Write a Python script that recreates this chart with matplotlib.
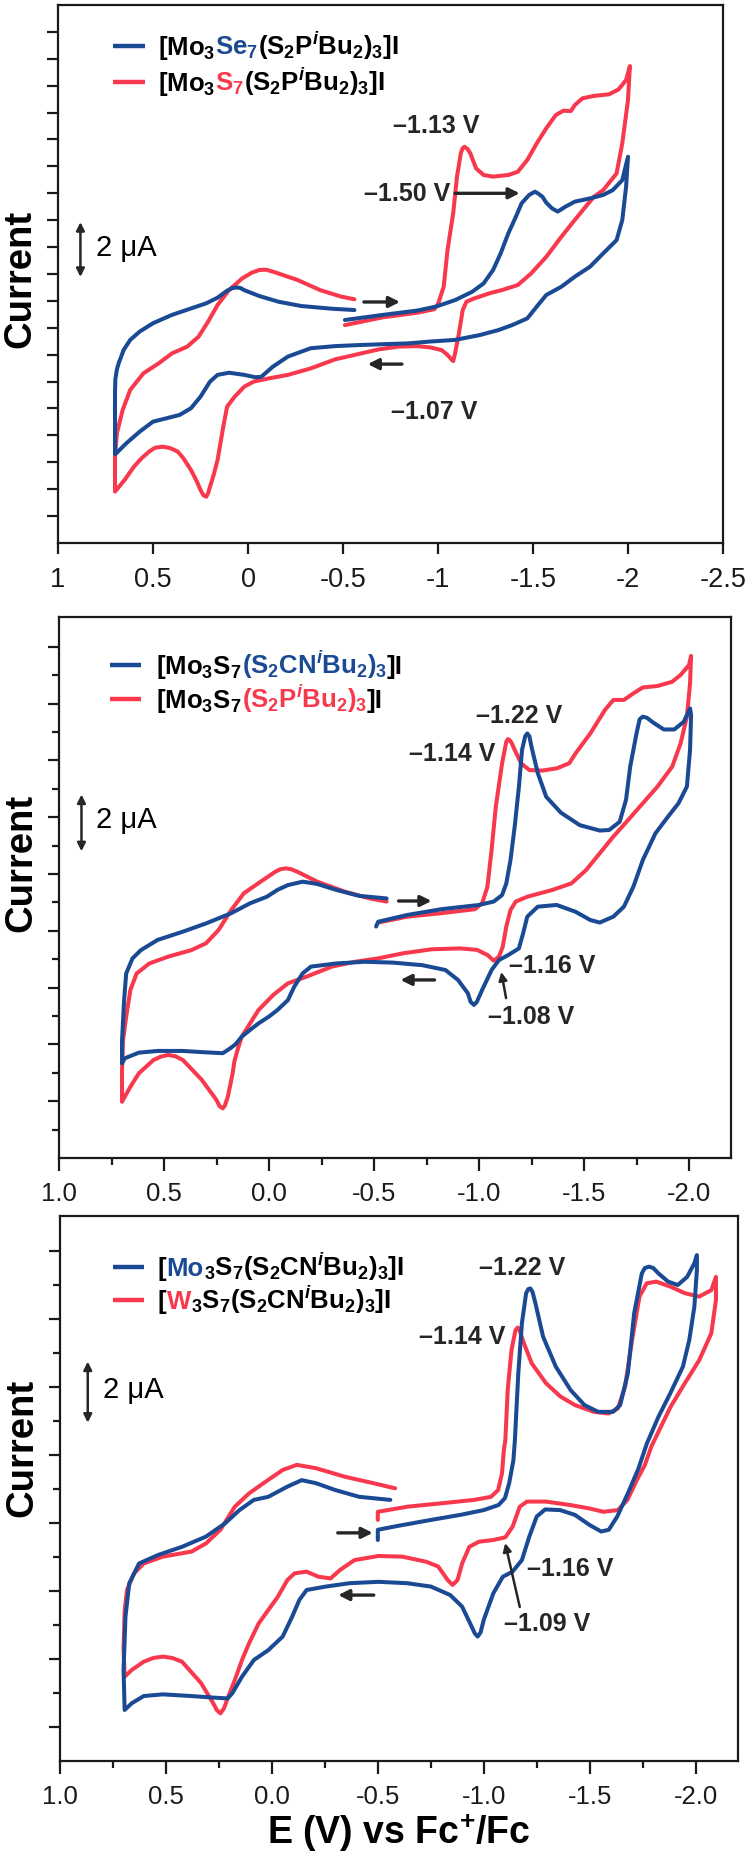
import matplotlib
matplotlib.use("Agg")
import matplotlib.pyplot as plt
from matplotlib.offsetbox import TextArea, HPacker, AnnotationBbox
import numpy as np

plt.rcParams["font.family"] = ["Liberation Sans", "DejaVu Sans"]
plt.rcParams["axes.unicode_minus"] = False
plt.rcParams["mathtext.fontset"] = "custom"
plt.rcParams["mathtext.rm"] = "Liberation Sans:bold"
plt.rcParams["mathtext.bf"] = "Liberation Sans:bold"
plt.rcParams["mathtext.it"] = "Liberation Sans:italic:bold"
plt.rcParams["mathtext.default"] = "rm"

BLUE = "#1b4a94"
RED = "#f8384d"
INK = "#262626"

# ---------------------------------------------------------------- data ----
# panel 1: [Mo3Se7(S2PiBu2)3]I (blue) vs [Mo3S7(S2PiBu2)3]I (red), current in uA
P1_BLUE_E = [-0.51, -0.71, -0.89, -0.99, -1.09, -1.18, -1.24, -1.29, -1.33, -1.37, -1.41, -1.44, -1.48,
             -1.51, -1.525, -1.55, -1.57, -1.60, -1.63, -1.67, -1.72, -1.80, -1.87, -1.92, -1.97, -2.00,
             -1.99, -1.97, -1.94, -1.87, -1.80, -1.72, -1.65, -1.57, -1.52, -1.47, -1.39, -1.32, -1.22,
             -1.09, -0.96, -0.84, -0.71, -0.59, -0.46, -0.33, -0.21, -0.13, -0.07, -0.04, 0.02, 0.10,
             0.16, 0.20, 0.25, 0.30, 0.36, 0.45, 0.50, 0.57, 0.64, 0.69, 0.70,
             0.70, 0.70, 0.698, 0.69, 0.68, 0.67, 0.655, 0.62, 0.57, 0.50, 0.40, 0.30, 0.22, 0.16, 0.11,
             0.085, 0.06, 0.04, 0.02, -0.06, -0.16, -0.28, -0.44, -0.56]
P1_BLUE_I = [8.29, 8.48, 8.64, 8.79, 9.03, 9.34, 9.65, 10.15, 10.77, 11.51, 12.13, 12.63, 12.94,
             13.06, 13.00, 12.87, 12.65, 12.44, 12.32, 12.50, 12.69, 12.81, 12.94, 13.12, 13.49, 14.36,
             13.25, 12.01, 11.26, 10.77, 10.27, 9.90, 9.53, 9.22, 8.79, 8.35, 8.10, 7.92, 7.73,
             7.55, 7.49, 7.42, 7.39, 7.36, 7.32, 7.24, 6.93, 6.55, 6.18, 6.16, 6.25, 6.33,
             6.25, 6.00, 5.44, 5.01, 4.76, 4.60, 4.51, 4.14, 3.71, 3.36, 3.30,
             4.30, 5.60, 6.10, 6.45, 6.70, 6.88, 7.17, 7.55, 7.86, 8.17, 8.48, 8.72, 8.91, 9.12, 9.38,
             9.47, 9.50, 9.48, 9.40, 9.18, 8.97, 8.81, 8.71, 8.66]
P1_RED_E = [-0.51, -0.71, -0.89, -0.98, -1.00, -1.03, -1.05, -1.08, -1.10, -1.12, -1.13, -1.14, -1.155,
            -1.17, -1.20, -1.24, -1.29, -1.37, -1.42, -1.47, -1.52, -1.57, -1.62, -1.66, -1.70, -1.72,
            -1.76, -1.82, -1.90, -1.95, -1.99, -2.01,
            -2.00, -1.97, -1.94, -1.87, -1.82, -1.72, -1.65, -1.57, -1.49, -1.42, -1.34, -1.27, -1.19,
            -1.15, -1.13, -1.11, -1.09, -1.08, -1.05, -1.02, -0.96, -0.89, -0.79, -0.69, -0.56, -0.46,
            -0.33, -0.21, -0.11, -0.03, 0.02, 0.07, 0.11, 0.13, 0.16, 0.18, 0.20, 0.21, 0.22, 0.235,
            0.25, 0.27, 0.30, 0.34, 0.37, 0.41, 0.45, 0.49, 0.52, 0.56, 0.60, 0.65, 0.70,
            0.70, 0.69, 0.66, 0.62, 0.55, 0.47, 0.40, 0.32, 0.26, 0.21, 0.16, 0.10, 0.03, -0.02,
            -0.06, -0.095, -0.13, -0.26, -0.38, -0.49, -0.56]
P1_RED_I = [8.10, 8.39, 8.56, 8.69, 8.88, 9.53, 10.89, 12.26, 13.62, 14.49, 14.68, 14.73, 14.65,
            14.49, 13.93, 13.68, 13.62, 13.68, 13.80, 14.24, 14.86, 15.42, 15.91, 16.07, 16.06, 16.28,
            16.53, 16.62, 16.68, 16.86, 17.21, 17.73,
            16.47, 14.86, 13.74, 13.12, 12.87, 12.01, 11.39, 10.64, 10.02, 9.59, 9.41, 9.28, 9.09,
            8.97, 8.66, 7.79, 7.05, 6.76, 6.99, 7.17, 7.27, 7.32, 7.30, 7.20, 6.99, 6.83,
            6.49, 6.25, 6.12, 6.00, 5.81, 5.44, 5.07, 4.33, 3.09, 2.55, 2.09, 1.85, 1.72, 1.78,
            1.97, 2.30, 2.71, 3.15, 3.40, 3.53, 3.58, 3.54, 3.40, 3.15, 2.84, 2.34, 1.91,
            3.21, 4.08, 4.94, 5.69, 6.31, 6.68, 7.05, 7.30, 7.67, 8.23, 8.85, 9.40, 9.84, 10.05,
            10.15, 10.16, 10.09, 9.78, 9.40, 9.16, 9.06]

# panel 2: [Mo3S7(S2CNiBu2)3]I (blue) vs [Mo3S7(S2PiBu2)3]I (red)
P2_BLUE_E = [-0.51, -0.52, -0.66, -0.82, -1.00, -1.07, -1.11, -1.13, -1.15, -1.17, -1.19, -1.205, -1.22,
             -1.23, -1.24, -1.25, -1.28, -1.32, -1.39, -1.48, -1.575, -1.62, -1.67, -1.70, -1.72, -1.75,
             -1.765, -1.78, -1.80, -1.83, -1.88, -1.93, -1.975, -2.005,
             -2.01, -2.005, -1.99, -1.95, -1.90, -1.84, -1.78, -1.735, -1.69, -1.64, -1.575, -1.53,
             -1.46, -1.37, -1.28, -1.23, -1.21, -1.19, -1.14, -1.095, -1.06, -1.015, -0.99, -0.976,
             -0.96, -0.947, -0.90, -0.84, -0.73, -0.59, -0.455, -0.32, -0.20, -0.16, -0.12, -0.09,
             -0.04, 0.00, 0.05, 0.09, 0.13, 0.16, 0.185, 0.22, 0.30, 0.41, 0.53, 0.62, 0.687, 0.70,
             0.70, 0.69, 0.68, 0.65, 0.61, 0.53, 0.41, 0.30, 0.18, 0.09, 0.01, -0.04, -0.09, -0.16,
             -0.23, -0.32, -0.43, -0.56]
P2_BLUE_I = [8.15, 8.32, 8.56, 8.76, 8.91, 9.03, 9.26, 9.67, 10.49, 11.67, 13.07, 14.37, 14.85,
             14.95, 14.85, 14.48, 13.55, 12.72, 12.16, 11.72, 11.53, 11.55, 11.84, 12.61, 13.78, 14.95,
             15.45, 15.54, 15.50, 15.33, 15.09, 15.09, 15.36, 15.83,
             15.60, 14.37, 13.08, 12.49, 12.02, 11.43, 10.49, 9.55, 8.85, 8.50, 8.29, 8.38,
             8.67, 8.91, 8.85, 8.50, 7.91, 7.38, 7.15, 6.97, 6.62, 5.92, 5.50, 5.39,
             5.50, 5.80, 6.27, 6.62, 6.79, 6.88, 6.91, 6.85, 6.74, 6.50, 6.03, 5.56,
             5.21, 4.98, 4.74, 4.51, 4.27, 4.00, 3.86, 3.69, 3.72, 3.77, 3.77, 3.71, 3.51, 3.33,
             4.10, 5.56, 6.50, 7.03, 7.32, 7.68, 7.97, 8.26, 8.62, 8.97, 9.20, 9.44, 9.61, 9.73,
             9.65, 9.44, 9.23, 9.14]
P2_RED_E = [-0.52, -0.66, -0.82, -0.98, -1.015, -1.04, -1.06, -1.08, -1.11, -1.13, -1.138, -1.145, -1.155,
            -1.17, -1.20, -1.24, -1.30, -1.37, -1.43, -1.46, -1.53, -1.60, -1.64, -1.69, -1.735, -1.78,
            -1.85, -1.92, -1.96, -2.00, -2.01,
            -2.005, -1.99, -1.96, -1.92, -1.85, -1.78, -1.71, -1.64, -1.575, -1.51, -1.44, -1.35,
            -1.23, -1.175, -1.15, -1.13, -1.113, -1.095, -1.07, -1.04, -0.99, -0.91, -0.775, -0.64,
            -0.52, -0.41, -0.30, -0.18, -0.09, -0.02, 0.05, 0.09, 0.13, 0.15, 0.165, 0.173, 0.196,
            0.21, 0.22, 0.235, 0.25, 0.32, 0.41, 0.445, 0.48, 0.515, 0.55, 0.62, 0.66, 0.70,
            0.70, 0.695, 0.68, 0.66, 0.63, 0.57, 0.48, 0.37, 0.30, 0.24, 0.18, 0.12, 0.04, -0.03,
            -0.055, -0.08, -0.105, -0.135, -0.23, -0.36, -0.48, -0.56]
P2_RED_I = [8.29, 8.50, 8.62, 8.76, 8.97, 9.55, 10.85, 12.37, 13.90, 14.66, 14.75, 14.72, 14.62,
            14.37, 13.90, 13.66, 13.64, 13.72, 13.90, 14.25, 14.95, 15.78, 16.13, 16.13, 16.36, 16.57,
            16.62, 16.77, 17.01, 17.36, 17.68,
            16.71, 15.54, 14.60, 13.78, 13.08, 12.49, 11.90, 11.32, 10.73, 10.14, 9.67, 9.44,
            9.20, 9.03, 8.73, 8.15, 7.44, 7.09, 6.95, 7.15, 7.33, 7.38, 7.35, 7.21,
            7.03, 6.91, 6.74, 6.39, 6.15, 5.74, 5.21, 4.74, 4.27, 3.80, 3.40, 2.98, 2.16,
            1.85, 1.75, 1.82, 2.04, 2.75, 3.45, 3.58, 3.63, 3.57, 3.45, 2.98, 2.51, 1.98,
            3.04, 4.15, 4.98, 5.92, 6.50, 6.85, 7.09, 7.32, 7.56, 8.03, 8.73, 9.32, 9.73, 10.08,
            10.17, 10.20, 10.17, 10.08, 9.73, 9.38, 9.14, 9.03]

# panel 3: [Mo3S7(S2CNiBu2)3]I (blue) vs [W3S7(S2CNiBu2)3]I (red)
P3_BLUE_E = [-0.50, -0.50, -0.59, -0.75, -0.89, -1.00, -1.07, -1.10, -1.12, -1.14, -1.147, -1.163, -1.18,
             -1.20, -1.21, -1.22, -1.23, -1.244, -1.28, -1.34, -1.41, -1.475, -1.54, -1.61, -1.644, -1.68,
             -1.71, -1.746, -1.76, -1.78, -1.80, -1.825, -1.87, -1.916, -1.96, -1.994, -2.006,
             -2.006, -1.994, -1.97, -1.94, -1.88, -1.825, -1.77, -1.73, -1.68, -1.63, -1.59, -1.554,
             -1.50, -1.43, -1.36, -1.29, -1.25, -1.215, -1.18, -1.136, -1.09, -1.045, -1.00, -0.985,
             -0.971, -0.958, -0.943, -0.898, -0.842, -0.751, -0.638, -0.503, -0.367, -0.254, -0.164,
             -0.130, -0.096, -0.051, 0.017, 0.085, 0.141, 0.187, 0.209, 0.288, 0.379, 0.515, 0.605,
             0.661, 0.695,
             0.700, 0.691, 0.673, 0.627, 0.537, 0.424, 0.311, 0.221, 0.153, 0.085, 0.017, -0.073,
             -0.141, -0.209, -0.299, -0.412, -0.559]
P3_BLUE_I = [6.50, 6.80, 6.91, 7.09, 7.24, 7.38, 7.53, 7.73, 8.17, 8.85, 9.44, 11.40, 12.87,
             13.76, 13.88, 13.90, 13.80, 13.46, 12.48, 11.60, 10.91, 10.47, 10.27, 10.27, 10.47, 11.40,
             13.17, 14.34, 14.50, 14.54, 14.50, 14.34, 14.10, 14.00, 14.24, 14.64, 14.88,
             14.44, 13.36, 12.38, 11.60, 10.81, 10.13, 9.34, 8.60, 7.87, 7.19, 6.80, 6.75,
             6.94, 7.24, 7.38, 7.40, 7.19, 6.60, 5.91, 5.57, 5.42, 4.93, 4.15, 3.78,
             3.66, 3.75, 3.95, 4.54, 4.88, 5.13, 5.23, 5.27, 5.23, 5.13, 5.03,
             4.74, 4.25, 3.66, 3.26, 2.97, 2.48, 1.99, 1.84, 1.87, 1.91, 1.96, 1.91,
             1.70, 1.50,
             2.68, 4.25, 5.23, 5.81, 6.06, 6.30, 6.60, 6.99, 7.38, 7.68, 7.77, 8.07,
             8.26, 8.17, 7.97, 7.77, 7.68]
P3_RED_E = [-0.50, -0.50, -0.64, -0.80, -0.955, -1.034, -1.068, -1.086, -1.095, -1.102, -1.113, -1.131,
            -1.15, -1.16, -1.17, -1.19, -1.226, -1.294, -1.362, -1.43, -1.52, -1.588, -1.633, -1.667,
            -1.70, -1.735, -1.769, -1.814, -1.882, -1.949, -2.017, -2.074, -2.096,
            -2.096, -2.074, -2.017, -1.949, -1.882, -1.836, -1.791, -1.76, -1.723, -1.678, -1.633,
            -1.565, -1.497, -1.407, -1.294, -1.204, -1.17, -1.136, -1.102, -1.045, -0.977, -0.932,
            -0.898, -0.876, -0.853, -0.830, -0.785, -0.729, -0.616, -0.503, -0.390, -0.322, -0.277,
            -0.220, -0.164, -0.107, -0.073, -0.028, 0.017, 0.062, 0.108, 0.141, 0.175, 0.209, 0.226,
            0.243, 0.26, 0.277, 0.334, 0.424, 0.47, 0.515, 0.56, 0.605, 0.661, 0.695,
            0.700, 0.695, 0.684, 0.650, 0.605, 0.515, 0.379, 0.311, 0.243, 0.175, 0.108, 0.040,
            -0.051, -0.118, -0.209, -0.345, -0.480, -0.582]
P3_RED_I = [7.09, 7.33, 7.48, 7.58, 7.68, 7.77, 7.97, 8.46, 9.15, 9.44, 10.91, 12.09,
            12.68, 12.75, 12.65, 12.28, 11.70, 11.11, 10.72, 10.47, 10.27, 10.22, 10.37, 11.01,
            12.38, 13.66, 14.05, 14.10, 13.95, 13.76, 13.66, 13.85, 14.24,
            13.56, 12.58, 11.79, 11.11, 10.42, 9.83, 9.25, 8.70, 8.27, 7.68, 7.38,
            7.33, 7.43, 7.53, 7.63, 7.63, 7.48, 6.89, 6.58, 6.50, 6.45, 6.30,
            5.81, 5.32, 5.18, 5.32, 5.72, 5.86, 6.01, 6.03, 5.91, 5.62, 5.37,
            5.42, 5.57, 5.52, 5.32, 4.83, 4.44, 4.05, 3.46, 2.97, 2.38, 1.84, 1.55,
            1.40, 1.50, 1.70, 2.29, 2.92, 3.03, 3.07, 3.03, 2.92, 2.68, 2.48,
            3.30, 4.40, 5.03, 5.52, 5.81, 6.01, 6.16, 6.40, 6.80, 7.48, 7.87, 8.17,
            8.56, 8.71, 8.61, 8.36, 8.17, 8.02]

# legend pieces (text, colour) per line
P1_LEG = [[("[Mo$_3$", "k"), ("Se$_7$", BLUE), ("(S$_2$P$^{\\mathit{i}}$Bu$_2$)$_3$]I", "k")],
          [("[Mo$_3$", "k"), ("S$_7$", RED), ("(S$_2$P$^{\\mathit{i}}$Bu$_2$)$_3$]I", "k")]]
P2_LEG = [[("[Mo$_3$S$_7$", "k"), ("(S$_2$CN$^{\\mathit{i}}$Bu$_2$)$_3$", BLUE), ("]I", "k")],
          [("[Mo$_3$S$_7$", "k"), ("(S$_2$P$^{\\mathit{i}}$Bu$_2$)$_3$", RED), ("]I", "k")]]
P3_LEG = [[("[", "k"), ("Mo", BLUE), ("$_3$S$_7$(S$_2$CN$^{\\mathit{i}}$Bu$_2$)$_3$]I", "k")],
          [("[", "k"), ("W", RED), ("$_3$S$_7$(S$_2$CN$^{\\mathit{i}}$Bu$_2$)$_3$]I", "k")]]

# peak labels: (text, E, I)
P1_LABELS = [("\u20131.13 V", -0.99, 15.5), ("\u20131.50 V", -0.84, 12.97), ("\u20131.07 V", -0.98, 4.87)]
P2_LABELS = [("\u20131.22 V", -1.19, 15.56), ("\u20131.14 V", -0.87, 14.23),
             ("\u20131.16 V", -1.35, 6.76), ("\u20131.08 V", -1.25, 4.96)]
P3_LABELS = [("\u20131.22 V", -1.18, 14.50), ("\u20131.14 V", -0.90, 12.47),
             ("\u20131.16 V", -1.41, 5.65), ("\u20131.09 V", -1.30, 4.03)]

W, H = 750, 1851


def add_axes(fig, left, top, right, bottom):
    return fig.add_axes([left / W, (H - bottom) / H, (right - left) / W, (bottom - top) / H])


def legend_line(ax, pieces, E, I, fs):
    box = HPacker(children=[TextArea(t, textprops=dict(color=c, fontsize=fs, fontweight="bold"))
                            for t, c in pieces], align="baseline", pad=0, sep=0)
    ax.add_artist(AnnotationBbox(box, (E, I), xycoords="data", box_alignment=(0, 0.5),
                                 frameon=False, pad=0))


def arrow(ax, start, end, lw=2.4, ms=16, style="-|>"):
    ax.annotate("", xy=end, xytext=start,
                arrowprops=dict(arrowstyle=style, color=INK, lw=lw, mutation_scale=ms,
                                shrinkA=0, shrinkB=0))


def decorate(ax, leg, leg_E, leg_I, line_E, labels, fs_leg=18.5):
    for (row, I), c in zip(zip(leg, leg_I), (BLUE, RED)):
        ax.plot(line_E, [I, I], color=c, lw=3.2, solid_capstyle="butt")
        legend_line(ax, row, leg_E, I, fs_leg)
    for t, E, I in labels:
        ax.text(E, I, t, fontsize=18, fontweight="bold", ha="center", va="center", color=INK)
    for s in ax.spines.values():
        s.set_linewidth(1.6)
        s.set_color("#1a1a1a")
    ax.tick_params(axis="both", which="both", direction="out", width=1.6, colors="#1a1a1a",
                   top=False, right=False)


def ylabel(ax, y):
    ax.text(-0.056, y, "Current", transform=ax.transAxes, rotation=90, fontsize=27.5,
            fontweight="bold", ha="center", va="center")


def cv(ax, red_E, red_I, blue_E, blue_I):
    ax.plot(red_E, red_I, color=RED, lw=2.9, solid_joinstyle="round", solid_capstyle="round")
    ax.plot(blue_E, blue_I, color=BLUE, lw=2.9, solid_joinstyle="round", solid_capstyle="round")


fig = plt.figure(figsize=(W / 100, H / 100), dpi=100)

# ---- panel 1 ----
ax1 = add_axes(fig, 58, 5, 723, 543)
cv(ax1, P1_RED_E, P1_RED_I, P1_BLUE_E, P1_BLUE_I)
ax1.set_xlim(1, -2.5)
ax1.set_ylim(0, 20)
ax1.set_xticks(np.arange(1, -2.51, -0.5))
ax1.set_xticklabels(["1", "0.5", "0", "-0.5", "-1", "-1.5", "-2", "-2.5"])
ax1.set_yticks(np.arange(1, 20))
ax1.set_yticklabels([])
decorate(ax1, P1_LEG, 0.474, [18.48, 17.14], [0.71, 0.54], P1_LABELS)
ax1.tick_params(axis="x", length=8, labelsize=19.5, pad=9)
ax1.tick_params(axis="y", length=8)
arrow(ax1, (-1.09, 13.0), (-1.43, 13.0))
arrow(ax1, (-0.61, 8.96), (-0.80, 8.96))
arrow(ax1, (-0.81, 6.65), (-0.63, 6.65))
arrow(ax1, (0.882, 9.89), (0.882, 11.93), lw=1.8, ms=12, style="<|-|>")
ax1.text(0.80, 10.97, "2 \u03bcA", fontsize=21, ha="left", va="center")
ylabel(ax1, 0.49)

# ---- panel 2 ----
ax2 = add_axes(fig, 59, 617, 731, 1158)
cv(ax2, P2_RED_E, P2_RED_I, P2_BLUE_E, P2_BLUE_I)
ax2.set_xlim(1.0, -2.2)
ax2.set_ylim(0, 19.05)

# ---- panel 3 ----
ax3 = add_axes(fig, 60, 1216, 738, 1761)
cv(ax3, P3_RED_E, P3_RED_I, P3_BLUE_E, P3_BLUE_I)
ax3.set_xlim(1.0, -2.2)
ax3.set_ylim(0, 16.03)

for ax, ymaj, ymin in [(ax2, np.arange(2, 19, 2), np.arange(1, 19, 2)),
                       (ax3, np.arange(1, 16, 2), np.arange(2, 16, 2))]:
    ax.set_xticks(np.arange(1.0, -2.01, -0.5))
    ax.set_xticklabels(["1.0", "0.5", "0.0", "-0.5", "-1.0", "-1.5", "-2.0"])
    ax.set_xticks(np.arange(0.75, -2.01, -0.5), minor=True)
    ax.set_yticks(ymaj)
    ax.set_yticks(ymin, minor=True)
    ax.set_yticklabels([])

decorate(ax2, P2_LEG, 0.537, [17.36, 16.16], [0.757, 0.609], P2_LABELS)
arrow(ax2, (-0.617, 9.05), (-0.774, 9.05))
arrow(ax2, (-0.788, 6.27), (-0.626, 6.27))
arrow(ax2, (-1.129, 5.63), (-1.106, 6.55), lw=1.8, ms=12)
arrow(ax2, (0.893, 10.8), (0.893, 12.8), lw=1.8, ms=12, style="<|-|>")
ax2.text(0.824, 11.9, "2 \u03bcA", fontsize=21, ha="left", va="center")
ylabel(ax2, 0.545)

decorate(ax3, P3_LEG, 0.538, [14.53, 13.56], [0.750, 0.604], P3_LABELS)
arrow(ax3, (-0.311, 6.71), (-0.476, 6.71))
arrow(ax3, (-0.481, 4.88), (-0.313, 4.88))
arrow(ax3, (-1.170, 4.53), (-1.101, 6.41), lw=1.8, ms=12)
arrow(ax3, (0.869, 9.95), (0.869, 11.75), lw=1.8, ms=12, style="<|-|>")
ax3.text(0.797, 10.9, "2 \u03bcA", fontsize=21, ha="left", va="center")
ylabel(ax3, 0.575)
ax3.set_xlabel("E (V) vs Fc$^{+}$/Fc", fontsize=27, fontweight="bold", labelpad=2)

for ax in (ax2, ax3):
    ax.tick_params(axis="x", which="major", length=9, labelsize=18.5, pad=8)
    ax.tick_params(axis="x", which="minor", length=5)
    ax.tick_params(axis="y", which="major", length=8)
    ax.tick_params(axis="y", which="minor", length=5)

fig.savefig("out.png", dpi=100, facecolor="white")
